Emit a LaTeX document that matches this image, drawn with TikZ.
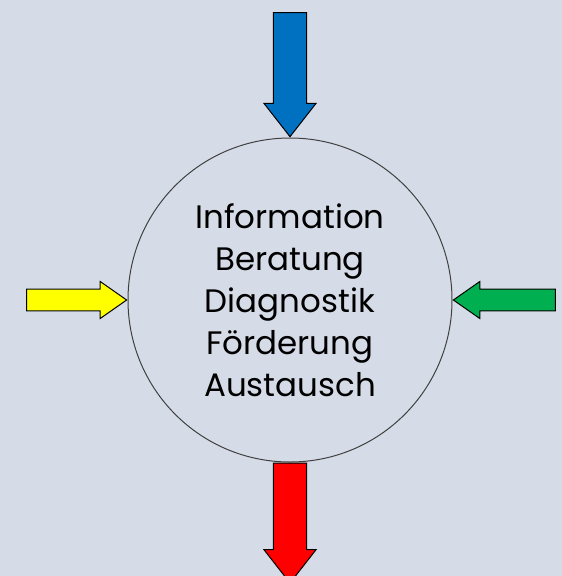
\documentclass[tikz,border=0pt]{standalone}
\usepackage{fontspec}
\setmainfont{Poppins}
\usetikzlibrary{shapes.arrows,shapes.geometric}
\definecolor{bgblue}{HTML}{D6DCE7}
\definecolor{rimgrey}{HTML}{404040}
\definecolor{inblue}{HTML}{0070C0}
\definecolor{inyellow}{HTML}{FFFF00}
\definecolor{ingreen}{HTML}{00B050}
\definecolor{outred}{HTML}{FF0000}
\tikzset{
  hub/.style={circle, draw=rimgrey, line width=1pt, fill=bgblue,
    minimum size=324pt, inner sep=0pt, align=center,
    font=\fontsize{32.5}{42}\selectfont},
  bigarrow/.style={single arrow, draw=black, line width=1pt,
    inner xsep=0pt, inner ysep=12pt, minimum width=52pt,
    single arrow head indent=0pt, single arrow tip angle=76,
    minimum height=#1},
  smallarrow/.style={single arrow, draw=black, line width=1pt,
    inner xsep=0pt, inner ysep=9.5pt, minimum width=37pt,
    single arrow head indent=0pt, single arrow tip angle=70,
    minimum height=#1},
}
\begin{document}
\begin{tikzpicture}[x=1pt,y=-1pt]
  \fill[bgblue] (0,0) rectangle (562,576);
  \useasboundingbox (0,0) rectangle (562,576);

  \node[hub] (hub) at (290,300) {Information\\Beratung\\Diagnostik\\Förderung\\Austausch};

  % inputs
  \node[bigarrow=124pt, fill=inblue, rotate=-90, anchor=tip] (blue) at (hub.north) {};
  \node[smallarrow=100pt, fill=inyellow, anchor=tip] (yellow) at (hub.west) {};
  \node[smallarrow=102pt, fill=ingreen, rotate=180, anchor=tip] (green) at (hub.east) {};
  % output
  \node[bigarrow=120pt, fill=outred, rotate=-90, anchor=tail] (red) at (hub.south) {};
\end{tikzpicture}
\end{document}
